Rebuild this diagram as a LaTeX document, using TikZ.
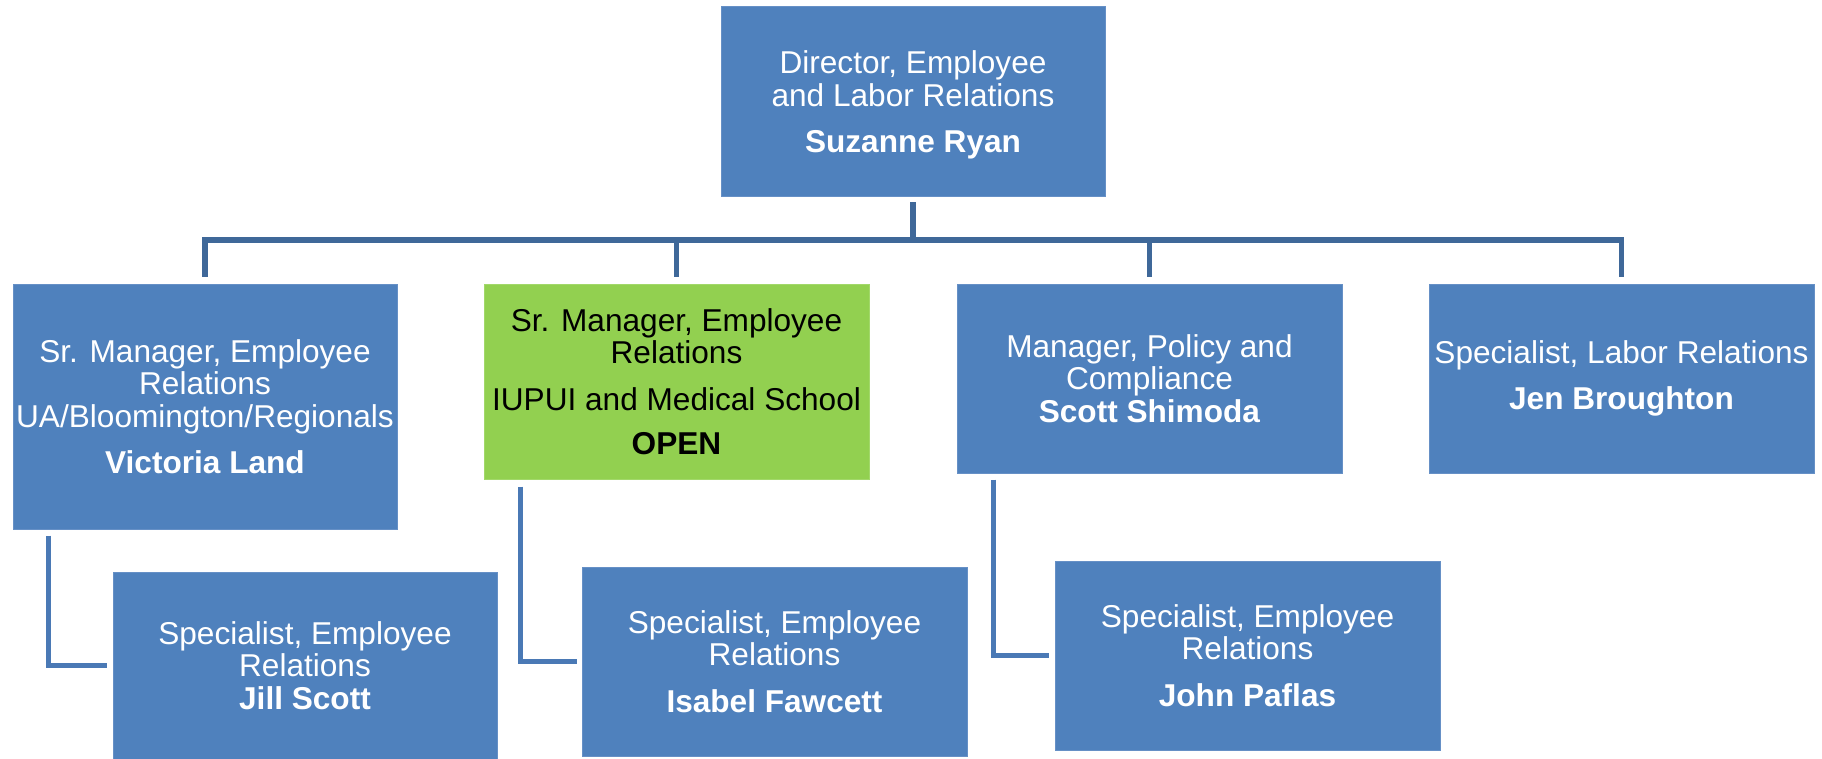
\documentclass[tikz,border=0pt]{standalone}
\usepackage{fontspec}
\setmainfont{Liberation Sans}
\usetikzlibrary{calc}
\definecolor{boxblue}{HTML}{4F81BD}
\definecolor{boxedge}{HTML}{6690C6}
\definecolor{boxgreen}{HTML}{92D050}
\definecolor{greenedge}{HTML}{A2D86A}
\definecolor{busblue}{HTML}{3F6899}
\definecolor{elbowblue}{HTML}{4A79B5}
\begin{document}
\begin{tikzpicture}[x=1pt,y=-1pt,
  bluebox/.style={draw=boxedge, line width=1pt, fill=boxblue, text=white,
    align=center, inner sep=0pt,
    font=\fontsize{31.6}{32.5}\selectfont},
  greenbox/.style={bluebox, draw=greenedge, fill=boxgreen, text=black},
  bus/.style={draw=busblue, line width=5.5pt},
  elbow/.style={draw=elbowblue, line width=5pt}]
\useasboundingbox[fill=white] (0,0) rectangle (1822,759);

\node[bluebox, minimum width=384, minimum height=190, text depth=0pt] (top) at (913,102)
  {Director, Employee\\and Labor Relations\\[14pt]\textbf{Suzanne Ryan}};

\node[bluebox, minimum width=384, minimum height=245] (A) at (205,406.5)
  {Sr. Manager, Employee\\Relations\\UA/Bloomington/Regionals\\[14pt]\textbf{Victoria Land}};
\node[greenbox, minimum width=385, minimum height=195] (B) at (676.5,381.5)
  {Sr. Manager, Employee\\Relations\\[14pt]IUPUI and Medical School\\[12pt]\textbf{OPEN}};
\node[bluebox, minimum width=385, minimum height=189] (C) at (1149.5,378.5)
  {Manager, Policy and\\Compliance\\\textbf{Scott Shimoda}};
\node[bluebox, minimum width=385, minimum height=189] (D) at (1621.5,378.5)
  {Specialist, Labor Relations\\[14pt]\textbf{Jen Broughton}};

\node[bluebox, minimum width=384, minimum height=187] (E) at (305,665.5)
  {Specialist, Employee\\Relations\\\textbf{Jill Scott}};
\node[bluebox, minimum width=385, minimum height=189] (F) at (774.5,661.5)
  {Specialist, Employee\\Relations\\[14pt]\textbf{Isabel Fawcett}};
\node[bluebox, minimum width=385, minimum height=189] (G) at (1247.5,655.5)
  {Specialist, Employee\\Relations\\[14pt]\textbf{John Paflas}};

\coordinate (busy) at (0,240);
\draw[bus] ($(top.south)+(0,5)$) -- (top.south |- busy);
\draw[bus] ($(A.north)+(0,-7)$) -- (A.north |- busy) -- (D.north |- busy) -- ($(D.north)+(0,-7)$);
\draw[bus] (B.north |- busy) -- ($(B.north)+(0,-7)$);
\draw[bus] (C.north |- busy) -- ($(C.north)+(0,-7)$);

\draw[elbow] ($(A.south west)+(36,6)$) |- ($(E.west)+(-6,0)$);
\draw[elbow] ($(B.south west)+(37,7)$) |- ($(F.west)+(-5,0)$);
\draw[elbow] ($(C.south west)+(37,6)$) |- ($(G.west)+(-6,0)$);
\end{tikzpicture}
\end{document}
